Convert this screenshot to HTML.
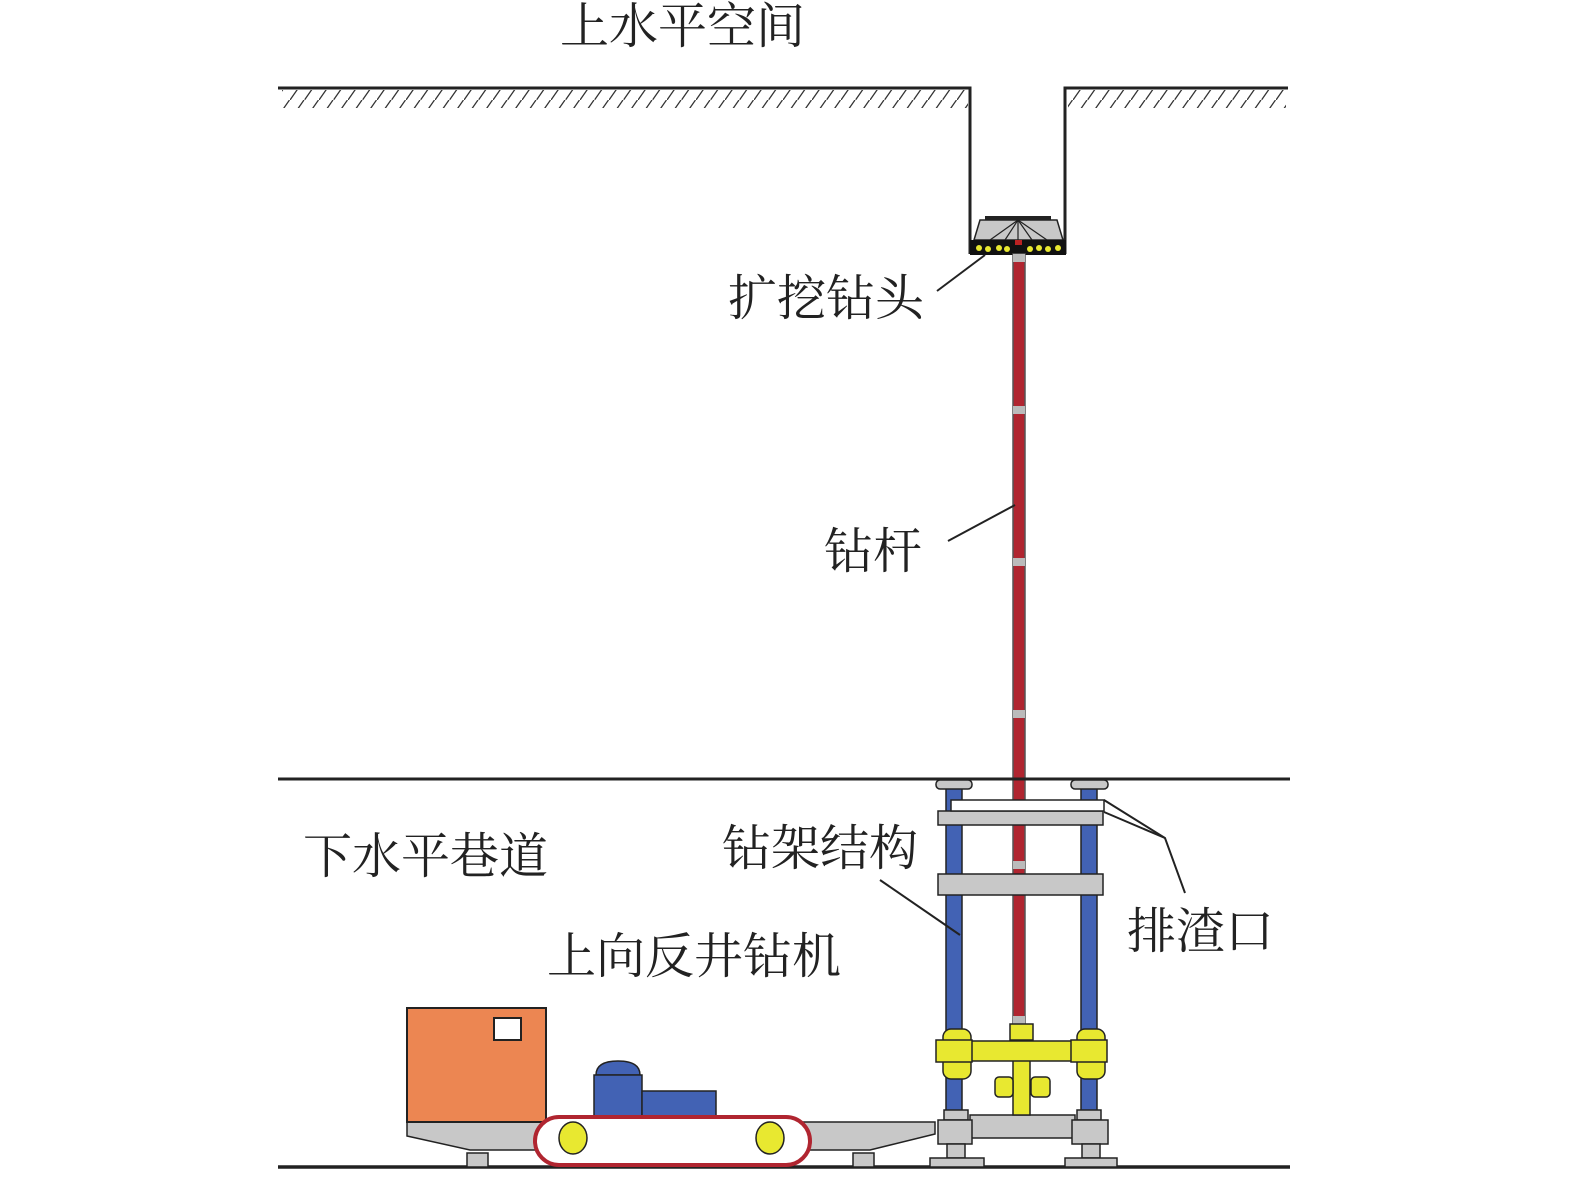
<!DOCTYPE html>
<html><head><meta charset="utf-8"><style>
html,body{margin:0;padding:0;background:#fff}
svg{display:block}
text{font-family:"Liberation Serif","Noto Serif CJK SC","Noto Sans CJK SC",serif;font-size:49px;fill:#222}
</style></head><body>
<svg width="1575" height="1196" viewBox="0 0 1575 1196" xmlns="http://www.w3.org/2000/svg">
<defs>
<pattern id="h" width="14.5" height="20" patternUnits="userSpaceOnUse">
<line x1="0" y1="20" x2="14" y2="0" stroke="#333" stroke-width="1.3"/>
</pattern>
</defs>
<!-- top ground -->
<rect x="282" y="90" width="686" height="18" fill="url(#h)"/>
<rect x="1068" y="90" width="218" height="18" fill="url(#h)"/>
<polyline points="278,88 970,88 970,254" fill="none" stroke="#222" stroke-width="3"/>
<polyline points="1288,88 1065,88 1065,254" fill="none" stroke="#222" stroke-width="3"/>
<!-- drill head -->
<rect x="985" y="216" width="66" height="4" fill="#222"/>
<polygon points="980,220 1057,220 1063,240 974,240" fill="#c8c8c8" stroke="#222" stroke-width="1.5"/>
<g stroke="#222" stroke-width="1.2"><line x1="1018" y1="220" x2="990" y2="240"/><line x1="1018" y1="220" x2="1005" y2="240"/><line x1="1018" y1="220" x2="1018" y2="240"/><line x1="1018" y1="220" x2="1032" y2="240"/><line x1="1018" y1="220" x2="1047" y2="240"/></g>
<rect x="970" y="240" width="96" height="15" fill="#111"/>
<g fill="#e8e830"><circle cx="979" cy="248" r="3"/><circle cx="988" cy="249" r="3"/><circle cx="999" cy="248" r="3"/><circle cx="1007" cy="249" r="3"/><circle cx="1030" cy="249" r="3"/><circle cx="1039" cy="248" r="3"/><circle cx="1048" cy="249" r="3"/><circle cx="1058" cy="248" r="3"/></g>
<rect x="1015" y="240" width="7" height="5" fill="#b22"/>
<!-- rod -->
<rect x="1013" y="254" width="12" height="770" fill="#b02530" stroke="#555" stroke-width="1.5"/>
<g fill="#bbb"><rect x="1013" y="254" width="12" height="8"/><rect x="1013" y="406" width="12" height="8"/><rect x="1013" y="558" width="12" height="8"/><rect x="1013" y="710" width="12" height="8"/><rect x="1013" y="861" width="12" height="8"/><rect x="1013" y="1016" width="12" height="8"/></g>
<!-- lower lines -->
<line x1="278" y1="779" x2="1290" y2="779" stroke="#222" stroke-width="3"/>
<line x1="278" y1="1167" x2="1290" y2="1167" stroke="#222" stroke-width="3.5"/>
<!-- frame columns -->
<g fill="#4262b4" stroke="#222" stroke-width="1.5"><rect x="946" y="788" width="16" height="330"/><rect x="1081" y="788" width="16" height="330"/></g>
<g fill="#c8c8c8" stroke="#222" stroke-width="1.5">
<rect x="936" y="780" width="36" height="9" rx="4"/><rect x="1071" y="780" width="37" height="9" rx="4"/>
<rect x="938" y="811" width="165" height="14"/><rect x="938" y="874" width="165" height="21"/>
<rect x="970" y="1115" width="105" height="23"/>
<rect x="944" y="1110" width="24" height="10"/><rect x="1077" y="1110" width="24" height="10"/>
<rect x="938" y="1120" width="34" height="24"/><rect x="1072" y="1120" width="36" height="24"/>
<rect x="947" y="1144" width="18" height="14"/><rect x="1082" y="1144" width="18" height="14"/>
<rect x="930" y="1158" width="54" height="9"/><rect x="1065" y="1158" width="52" height="9"/>
</g>
<rect x="951" y="800" width="153" height="11" fill="#fff" stroke="#222" stroke-width="1.5"/>
<!-- yellow -->
<g fill="#e8e830" stroke="#222" stroke-width="1.5">
<rect x="943" y="1029" width="28" height="50" rx="8"/><rect x="1077" y="1029" width="28" height="50" rx="8"/>
<rect x="1013" y="1055" width="17" height="60"/>
<rect x="995" y="1077" width="18" height="20" rx="4"/><rect x="1031" y="1077" width="19" height="20" rx="4"/>
<rect x="970" y="1041" width="105" height="20"/>
<rect x="936" y="1040" width="36" height="22"/><rect x="1071" y="1040" width="36" height="22"/>
<rect x="1010" y="1024" width="23" height="16"/>
</g>
<!-- vehicle -->
<polygon points="407,1122 935,1122 935,1134 870,1150 470,1150 407,1136" fill="#c8c8c8" stroke="#222" stroke-width="1.5"/>
<g fill="#c8c8c8" stroke="#222" stroke-width="1.5"><rect x="467" y="1153" width="21" height="14"/><rect x="853" y="1153" width="21" height="14"/></g>
<rect x="407" y="1008" width="139" height="114" fill="#ec8652" stroke="#222" stroke-width="2"/>
<rect x="494" y="1018" width="27" height="22" fill="#fff" stroke="#222" stroke-width="2"/>
<path d="M596,1075 Q596,1061 618,1061 Q640,1061 640,1075 Z" fill="#4262b4" stroke="#222" stroke-width="1.5"/>
<rect x="594" y="1075" width="48" height="48" fill="#4262b4" stroke="#222" stroke-width="1.5"/>
<rect x="642" y="1091" width="74" height="32" fill="#4262b4" stroke="#222" stroke-width="1.5"/>
<rect x="535" y="1117" width="275" height="48" rx="24" fill="#fff" stroke="#b02530" stroke-width="4"/>
<ellipse cx="573" cy="1138" rx="14" ry="16" fill="#e8e830" stroke="#222" stroke-width="1.5"/>
<ellipse cx="770" cy="1138" rx="14" ry="16" fill="#e8e830" stroke="#222" stroke-width="1.5"/>
<!-- leaders -->
<g stroke="#222" stroke-width="2" fill="none">
<line x1="937" y1="291" x2="985" y2="255"/>
<line x1="948" y1="541" x2="1015" y2="505"/>
<line x1="880" y1="880" x2="960" y2="935"/>
<polyline points="1185,893 1165,838 1104,800"/>
<line x1="1165" y1="838" x2="1104" y2="812"/>
</g>
<!-- labels -->
<text x="560" y="43">上水平空间</text>
<text x="728" y="315">扩挖钻头</text>
<text x="824" y="568">钻杆</text>
<text x="722" y="865">钻架结构</text>
<text x="303" y="873">下水平巷道</text>
<text x="547" y="973">上向反井钻机</text>
<text x="1127" y="948">排渣口</text>
</svg>
</body></html>
